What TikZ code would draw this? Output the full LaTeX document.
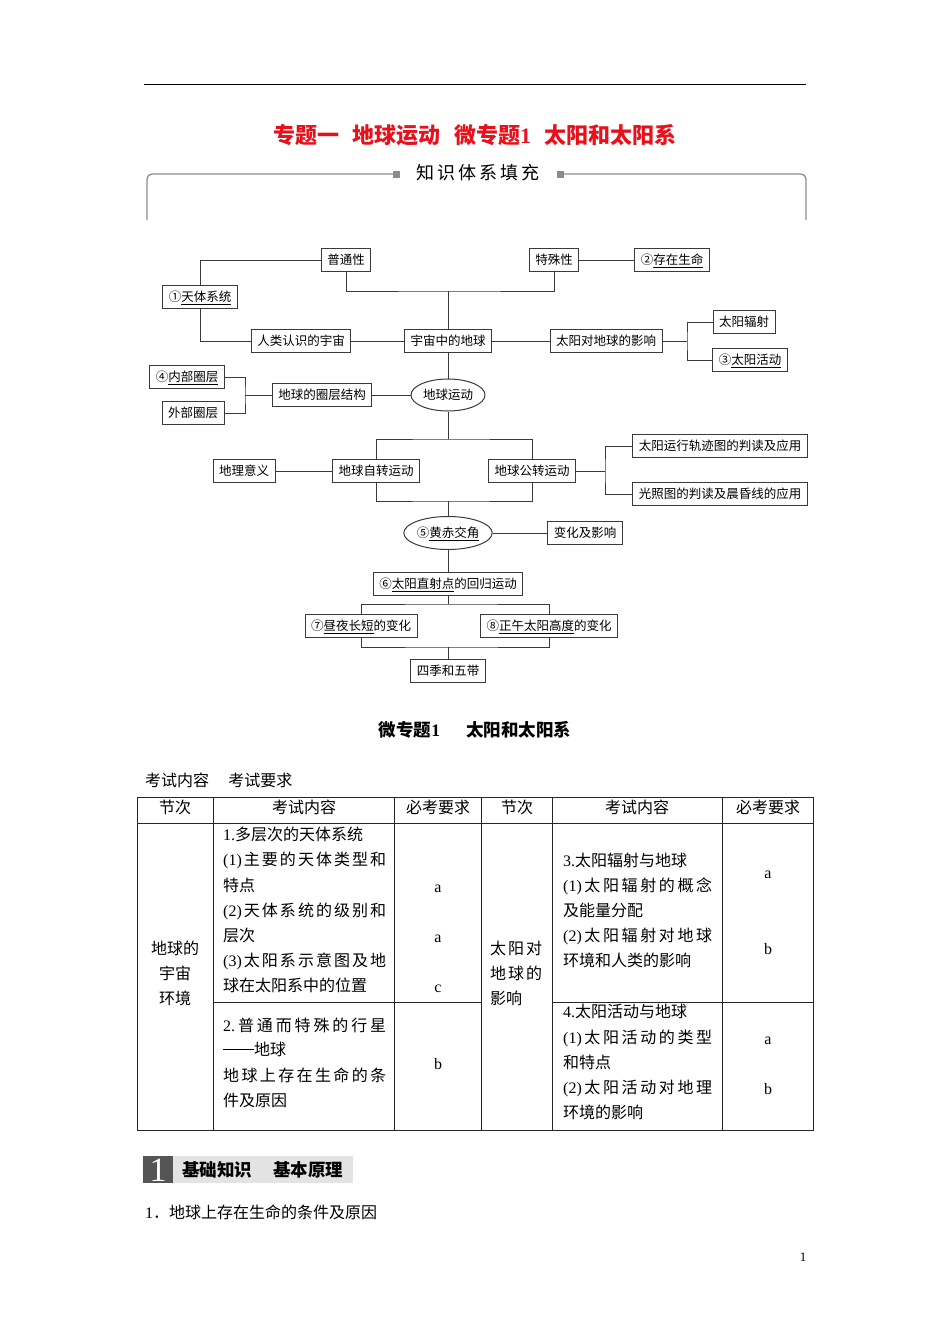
\documentclass[tikz,border=0pt]{standalone}
\usepackage{fontspec}
\setmainfont{Noto Sans CJK SC}
\newfontfamily\lm{Liberation Serif}
\usetikzlibrary{shapes.geometric}

\definecolor{linegray}{HTML}{3A3A3A}
\definecolor{framegray}{HTML}{8C8C8C}
\definecolor{titlered}{HTML}{E8101A}
\definecolor{bannerdark}{HTML}{555555}
\definecolor{bannerlight}{HTML}{E3E3E3}

% spread the characters of a line over a given width
\makeatletter
\def\spr@stop{spr@stop}
\newcommand\spread[2]{\makebox[#1][s]{\spr@first#2\spr@stop}}
\def\spr@first#1{{#1}\spr@rest}
\def\spr@rest#1{\ifx\spr@stop#1\else\hfill{#1}\expandafter\spr@rest\fi}
\makeatother

\tikzset{
  box/.style={draw=linegray, line width=1pt, inner xsep=6pt, inner ysep=5pt,
    text height=11pt, text depth=1.5pt, font=\fontsize{12.5}{15}\selectfont},
  oval/.style={ellipse, draw=linegray, line width=1pt, inner sep=0pt,
    text height=11pt, text depth=1.5pt, font=\fontsize{12.5}{15}\selectfont},
  link/.style={draw=linegray, line width=1pt},
  cell/.style={inner sep=0pt, text height=14pt, text depth=2pt, font=\fontsize{16}{19}\selectfont},
  lcell/.style={cell, anchor=west},
  tab/.style={draw=black!85, line width=1pt}
}

\begin{document}
\begin{tikzpicture}[x=1pt, y=-1pt]
  \fill[white] (0,0) rectangle (950,1344);
  \useasboundingbox (0,0) rectangle (950,1344);

  % Page head
  \draw[line width=1pt] (144,84) -- (806,84);
  \node[font=\bfseries\fontsize{22}{24}\selectfont, text=titlered] (title) at (475,135)
    {专题一\hspace{0.6em}地球运动\hspace{0.6em}微专题{\lm 1}\hspace{0.6em}太阳和太阳系};

  % Frame of the knowledge chart
  \draw[framegray, line width=1.3pt, rounded corners=5pt] (393,174) -- (147,174) -- (147,220);
  \draw[framegray, line width=1.3pt, rounded corners=5pt] (564,174) -- (806,174) -- (806,220);
  \fill[framegray] (393,170.5) rectangle (400,177.5);
  \fill[framegray] (557,170.5) rectangle (564,177.5);
  \node[font=\fontsize{18}{20}\selectfont] (zhishi) at (478,173) {\spread{124pt}{知识体系填充}};

  % Chart nodes
  \node[box] (putong) at (346,260) {普通性};
  \node[box] (teshu) at (554,260) {特殊性};
  \node[box] (shengming) at (672,260) {②\underline{存在生命}};
  \node[box] (tiantixi) at (200,297) {①\underline{天体系统}};
  \node[box] (renlei) at (301,341) {人类认识的宇宙};
  \node[box] (yuzhou) at (448,341) {宇宙中的地球};
  \node[box] (yingxiang) at (606,341) {太阳对地球的影响};
  \node[box] (fushe) at (744,322) {太阳辐射};
  \node[box] (huodong) at (750,360) {③\underline{太阳活动}};
  \node[box] (neibu) at (187,377) {④\underline{内部圈层}};
  \node[box] (waibu) at (193,413) {外部圈层};
  \node[box] (quanceng) at (322,395) {地球的圈层结构};
  \node[oval, minimum width=74pt, minimum height=32pt] (yundong) at (448,395) {地球运动};
  \node[box] (dili) at (244,471) {地理意义};
  \node[box] (zizhuan) at (376,471) {地球自转运动};
  \node[box] (gongzhuan) at (532,471) {地球公转运动};
  \node[box] (guiji) at (720,446) {太阳运行轨迹图的判读及应用};
  \node[box] (guangzhao) at (720,494) {光照图的判读及晨昏线的应用};
  \node[oval, minimum width=85pt, minimum height=33pt] (huangchi) at (448,533) {⑤\underline{黄赤交角}};
  \node[box] (bianhua) at (585,533) {变化及影响};
  \node[box] (zhishe) at (448,584) {⑥\underline{太阳直射点}的回归运动};
  \node[box] (zhouye) at (361,626) {⑦\underline{昼夜长短}的变化};
  \node[box] (zhengwu) at (549,626) {⑧\underline{正午太阳高度}的变化};
  \node[box] (siji) at (448,671) {四季和五带};

  % Junctions
  \coordinate (jtop) at (448,291);
  \coordinate (jsun) at (687,341);
  \coordinate (jlayer) at (245,395);
  \coordinate (jrot) at (448,439);
  \coordinate (jrot2) at (448,501);
  \coordinate (jorbit) at (605,471);
  \coordinate (jtrop) at (448,604);
  \coordinate (jtrop2) at (448,647);

  % Connectors
  \draw[link] (putong.south) |- (jtop) -| (teshu.south);
  \draw[link] (jtop) -- (yuzhou.north);
  \draw[link] (putong.west) -| (tiantixi.north);
  \draw[link] (tiantixi.south) |- (renlei.west);
  \draw[link] (renlei) -- (yuzhou);
  \draw[link] (yuzhou) -- (yingxiang);
  \draw[link] (teshu) -- (shengming);
  \draw[link] (yingxiang.east) -- (jsun);
  \draw[link] (fushe.west) -| (jsun) |- (huodong.west);
  \draw[link] (yuzhou) -- (yundong);
  \draw[link] (yundong) -- (quanceng);
  \draw[link] (quanceng.west) -- (jlayer);
  \draw[link] (neibu.east) -| (jlayer) |- (waibu.east);
  \draw[link] (yundong) -- (jrot);
  \draw[link] (zizhuan.north) |- (jrot) -| (gongzhuan.north);
  \draw[link] (zizhuan.south) |- (jrot2) -| (gongzhuan.south);
  \draw[link] (jrot2) -- (huangchi);
  \draw[link] (dili) -- (zizhuan);
  \draw[link] (gongzhuan.east) -- (jorbit);
  \draw[link] (guiji.west) -| (jorbit) |- (guangzhao.west);
  \draw[link] (huangchi) -- (bianhua);
  \draw[link] (huangchi) -- (zhishe);
  \draw[link] (zhishe.south) -- (jtrop);
  \draw[link] (zhouye.north) |- (jtrop) -| (zhengwu.north);
  \draw[link] (zhouye.south) |- (jtrop2) -| (zhengwu.south);
  \draw[link] (jtrop2) -- (siji.north);

  % Sub title
  \node[font=\bfseries\fontsize{17.5}{20}\selectfont] (subtitle) at (475,730)
    {微专题{\lm 1}\hspace{1.5em}太阳和太阳系};
  \node[lcell] (kaoshi) at (145,780) {考试内容\hspace{1.2em}考试要求};

  % Table grid
  \draw[tab] (137,797) rectangle (813,1130);
  \draw[tab] (137,823) -- (813,823);
  \foreach \x in {213,394,481,552,722}
    \draw[tab] (\x,797) -- (\x,1130);
  \draw[tab] (213,1002) -- (481,1002);
  \draw[tab] (552,1002) -- (813,1002);

  % Table head
  \foreach \x/\t in {175/节次, 304/考试内容, 438/必考要求, 517/节次, 637/考试内容, 768/必考要求}
    \node[cell] (head-\x) at (\x,807) {\t};

  % Left half
  \node[cell] (sec1a) at (175,948) {地球的};
  \node[cell] (sec1b) at (175,973) {宇宙};
  \node[cell] (sec1c) at (175,998) {环境};
  \node[lcell] (c1) at (223,834) {{\lm 1.}多层次的天体系统};
  \node[lcell] (c2) at (223,859) {\spread{163pt}{{\lm(1)}主要的天体类型和}};
  \node[lcell] (c3) at (223,885) {特点};
  \node[lcell] (c4) at (223,910) {\spread{163pt}{{\lm(2)}天体系统的级别和}};
  \node[lcell] (c5) at (223,935) {层次};
  \node[lcell] (c6) at (223,960) {\spread{163pt}{{\lm(3)}太阳系示意图及地}};
  \node[lcell] (c7) at (223,985) {球在太阳系中的位置};
  \node[lcell] (c8) at (223,1025) {\spread{163pt}{{\lm 2.}普通而特殊的行星}};
  \node[lcell] (c9) at (223,1049) {\rule[5.5pt]{31pt}{0.7pt}地球};
  \node[lcell] (c10) at (223,1075) {\spread{163pt}{地球上存在生命的条}};
  \node[lcell] (c11) at (223,1100) {件及原因};
  \node[cell] (r1) at (438,886) {\lm a};
  \node[cell] (r2) at (438,936) {\lm a};
  \node[cell] (r3) at (438,986) {\lm c};
  \node[cell] (r4) at (438,1063) {\lm b};

  % Right half
  \node[lcell] (sec2a) at (490,948) {\spread{52pt}{太阳对}};
  \node[lcell] (sec2b) at (490,973) {\spread{52pt}{地球的}};
  \node[lcell] (sec2c) at (490,998) {影响};
  \node[lcell] (d1) at (563,860) {{\lm 3.}太阳辐射与地球};
  \node[lcell] (d2) at (563,885) {\spread{149pt}{{\lm(1)}太阳辐射的概念}};
  \node[lcell] (d3) at (563,910) {及能量分配};
  \node[lcell] (d4) at (563,935) {\spread{149pt}{{\lm(2)}太阳辐射对地球}};
  \node[lcell] (d5) at (563,960) {环境和人类的影响};
  \node[lcell] (d6) at (563,1011) {{\lm 4.}太阳活动与地球};
  \node[lcell] (d7) at (563,1037) {\spread{149pt}{{\lm(1)}太阳活动的类型}};
  \node[lcell] (d8) at (563,1062) {和特点};
  \node[lcell] (d9) at (563,1087) {\spread{149pt}{{\lm(2)}太阳活动对地理}};
  \node[lcell] (d10) at (563,1112) {环境的影响};
  \node[cell] (s1) at (768,872) {\lm a};
  \node[cell] (s2) at (768,948) {\lm b};
  \node[cell] (s3) at (768,1038) {\lm a};
  \node[cell] (s4) at (768,1088) {\lm b};

  % Section banner
  \fill[bannerdark] (143,1156) rectangle (173,1183);
  \fill[bannerlight] (173,1156) rectangle (353,1183);
  \node[anchor=base, text=white, inner sep=0pt, font=\lm\fontsize{34}{34}\selectfont] (bannum) at (158,1181) {1};
  \node[anchor=west, inner sep=0pt, text height=15pt, text depth=2.5pt,
    font=\bfseries\fontsize{17.5}{20}\selectfont] (banner) at (182,1170) {基础知识\hspace{1.2em}基本原理};
  \node[lcell] (point1) at (145,1212) {{\lm 1}．地球上存在生命的条件及原因};

  % Page number
  \node[font=\lm\fontsize{13}{15}\selectfont] (page) at (803,1257) {1};
\end{tikzpicture}
\end{document}
